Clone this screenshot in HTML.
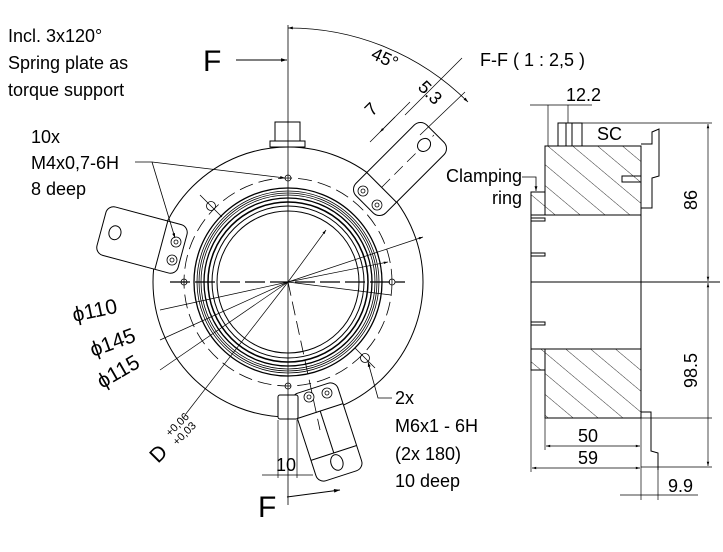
<!DOCTYPE html>
<html><head><style>
html,body{margin:0;padding:0;background:#fff;}
svg{display:block;}
text{font-family:"Liberation Sans",sans-serif;fill:#000;}
</style></head><body>
<svg width="723" height="552" viewBox="0 0 723 552" xmlns="http://www.w3.org/2000/svg">
<defs>
<marker id="a" viewBox="0 0 10 10" refX="10" refY="5" markerWidth="8" markerHeight="6" orient="auto-start-reverse"><path d="M0,2 L10,5 L0,8 z" fill="#000"/></marker>
<pattern id="h" width="16" height="16" patternUnits="userSpaceOnUse" patternTransform="rotate(-50)"><line x1="0" y1="0" x2="0" y2="16" stroke="#000" stroke-width="0.8"/></pattern>
</defs>
<g fill="none" stroke="#000" stroke-width="1">
<!-- body -->
<circle cx="288" cy="282" r="135" fill="#fff"/>
<rect x="275" y="122" width="25" height="20" fill="#fff"/>
<rect x="270" y="141" width="35" height="6" fill="#fff"/>
<circle cx="288" cy="282" r="104" stroke-dasharray="14,6" stroke-width="0.8"/>
<circle cx="288" cy="282" r="94" stroke-width="1.3"/>
<circle cx="288" cy="282" r="91" stroke-width="0.8"/>
<circle cx="288" cy="282" r="89" stroke-width="0.8"/>
<circle cx="288" cy="282" r="87" stroke-width="0.8"/>
<circle cx="288" cy="282" r="84" stroke-width="1.3"/>
<circle cx="288" cy="282" r="80" stroke-width="1.5"/>
<circle cx="288" cy="282" r="76"/>
<circle cx="288" cy="282" r="71"/>
<!-- tabs on top -->
<g transform="translate(400,169) rotate(-45)" fill="#fff">
<rect x="-50" y="-21" width="100" height="42" rx="9"/>
<line x1="-26" y1="-21" x2="-26" y2="21"/>
<line x1="-26" y1="0" x2="48" y2="0" stroke-dasharray="12,6" stroke-width="0.7"/>
<ellipse cx="34" cy="0" rx="7" ry="6"/>
</g>
<g transform="translate(142,240) rotate(15)" fill="#fff">
<rect x="-42" y="-25" width="84" height="50" rx="8"/>
<line x1="20" y1="-25" x2="20" y2="25"/>
<ellipse cx="-28" cy="0" rx="6" ry="7"/>
</g>
<g transform="translate(327,432) rotate(-18)" fill="#fff">
<rect x="-24" y="-46" width="48" height="92" rx="8"/>
<line x1="-24" y1="-22" x2="24" y2="-22"/>
<line x1="-24" y1="22" x2="24" y2="22"/>
<line x1="0" y1="-22" x2="0" y2="22"/>
<ellipse cx="0" cy="32" rx="6" ry="8"/>
</g>
<rect x="278" y="395" width="20" height="24" rx="2" fill="#fff"/>
<!-- holes -->
<g stroke-width="0.8">
<circle cx="184" cy="282" r="3"/><circle cx="392" cy="282" r="3"/>
<circle cx="288" cy="178" r="3"/><circle cx="288" cy="386" r="3"/>
<circle cx="211" cy="206" r="4.5"/><circle cx="365" cy="358" r="4.5"/>
<line x1="200" y1="195" x2="222" y2="217"/><line x1="355" y1="348" x2="375" y2="368"/>
<circle cx="363" cy="191" r="5"/><circle cx="363" cy="191" r="2"/>
<circle cx="377" cy="205" r="5"/><circle cx="377" cy="205" r="2"/>
<circle cx="176" cy="242" r="5"/><circle cx="176" cy="242" r="2"/>
<circle cx="172" cy="260" r="5"/><circle cx="172" cy="260" r="2"/>
<circle cx="309" cy="397" r="5"/><circle cx="309" cy="397" r="2"/>
<circle cx="327" cy="393" r="5"/><circle cx="327" cy="393" r="2"/>
</g>
<!-- center lines -->
<line x1="288" y1="25" x2="288" y2="505" stroke-width="0.8"/>
<line x1="170" y1="282" x2="405" y2="282" stroke-dasharray="20,5" stroke-width="1.2"/>
<line x1="288" y1="282" x2="320" y2="430" stroke-dasharray="14,6" stroke-width="0.8"/>
<!-- dim lines from center -->
<line x1="288" y1="282" x2="326" y2="230" marker-end="url(#a)" stroke-width="0.7"/>
<line x1="288" y1="282" x2="423" y2="237" marker-end="url(#a)" stroke-width="0.7"/>
<line x1="288" y1="282" x2="388" y2="262" marker-end="url(#a)" stroke-width="0.7"/>
<line x1="288" y1="282" x2="391" y2="295" stroke-width="0.7"/>
<line x1="160" y1="310" x2="288" y2="282" stroke-width="0.7"/>
<line x1="160" y1="340" x2="288" y2="282" stroke-width="0.7"/>
<line x1="160" y1="370" x2="288" y2="282" stroke-width="0.7"/>
<line x1="185" y1="415" x2="288" y2="282" stroke-width="0.7"/>
<!-- leaders -->
<polyline points="135,162 152,162 285,178" marker-end="url(#a)" stroke-width="0.8"/>
<line x1="152" y1="162" x2="175" y2="238" marker-end="url(#a)" stroke-width="0.8"/>
<polyline points="392,398 378,398 368,362" marker-end="url(#a)" stroke-width="0.8"/>
<polyline points="522,177 536,177 536,191" marker-end="url(#a)" stroke-width="0.8"/>
<!-- F arrows -->
<line x1="236" y1="60" x2="287" y2="60" marker-end="url(#a)"/>
<line x1="287" y1="497" x2="340" y2="490" marker-end="url(#a)"/>
<!-- 45 arc -->
<path d="M288,28 A254,254 0 0 1 468,102" marker-start="url(#a)" marker-end="url(#a)" stroke-width="0.8"/>
<line x1="370" y1="142" x2="410" y2="102" stroke-width="0.7"/>
<line x1="405" y1="115" x2="462" y2="58" stroke-width="0.7"/>
<line x1="420" y1="135" x2="465" y2="92" stroke-width="0.7"/>
<line x1="380" y1="132" x2="395" y2="117" marker-start="url(#a)" stroke-width="0.7"/>
<!-- 10 dim -->
<line x1="278" y1="420" x2="278" y2="478" stroke-width="0.7"/>
<line x1="297" y1="420" x2="297" y2="478" stroke-width="0.7"/>
<line x1="262" y1="475" x2="313" y2="475" stroke-width="0.7"/>
<!-- side view -->
<rect x="545" y="146" width="96" height="69" fill="url(#h)"/>
<rect x="545" y="349" width="96" height="69" fill="url(#h)"/>
<rect x="531" y="192" width="14" height="23" fill="url(#h)"/>
<rect x="531" y="349" width="14" height="21" fill="url(#h)"/>
<rect x="558" y="123" width="24" height="23" fill="#fff"/>
<line x1="566" y1="123" x2="566" y2="146"/><line x1="572" y1="123" x2="572" y2="146"/>
<rect x="531" y="215" width="110" height="134"/>
<line x1="545" y1="146" x2="545" y2="215"/>
<line x1="531" y1="282" x2="720" y2="282"/>
<rect x="531" y="218" width="14" height="3"/><rect x="531" y="253" width="14" height="3"/>
<rect x="531" y="322" width="14" height="3"/>
<path d="M641,144 L652,144 L652,132 L659,129 L659,176 L652,178 L652,208 L641,208"/>
<rect x="622" y="176" width="19" height="6"/>
<path d="M641,412 L651,412 L651,451 L658,453 L658,470"/>
<!-- side dims -->
<line x1="582" y1="123" x2="712" y2="123" stroke-width="0.7"/>
<line x1="641" y1="418" x2="712" y2="418" stroke-width="0.7"/>
<line x1="641" y1="467" x2="712" y2="467" stroke-width="0.7"/>
<line x1="708" y1="124" x2="708" y2="281" marker-start="url(#a)" marker-end="url(#a)" stroke-width="0.7"/>
<line x1="708" y1="283" x2="708" y2="466" marker-start="url(#a)" marker-end="url(#a)" stroke-width="0.7"/>
<line x1="531" y1="350" x2="531" y2="472" stroke-width="0.7"/>
<line x1="545" y1="418" x2="545" y2="450" stroke-width="0.7"/>
<line x1="641" y1="418" x2="641" y2="500" stroke-width="0.7"/>
<line x1="546" y1="446" x2="640" y2="446" marker-start="url(#a)" marker-end="url(#a)" stroke-width="0.7"/>
<line x1="532" y1="468" x2="640" y2="468" marker-start="url(#a)" marker-end="url(#a)" stroke-width="0.7"/>
<line x1="658" y1="470" x2="658" y2="500" stroke-width="0.7"/>
<line x1="620" y1="495" x2="698" y2="495" stroke-width="0.7"/>
<line x1="530" y1="105" x2="592" y2="105" stroke-width="0.7"/>
<line x1="548" y1="105" x2="548" y2="146" stroke-width="0.7"/>
<line x1="568" y1="105" x2="568" y2="123" stroke-width="0.7"/>
</g>
<!-- text -->
<g font-size="18">
<text x="8" y="42">Incl. 3x120°</text>
<text x="8" y="69">Spring plate as</text>
<text x="8" y="96">torque support</text>
<text x="31" y="143">10x</text>
<text x="31" y="169">M4x0,7-6H</text>
<text x="31" y="195">8 deep</text>
<text x="395" y="404">2x</text>
<text x="395" y="432">M6x1 - 6H</text>
<text x="395" y="460">(2x 180)</text>
<text x="395" y="487">10 deep</text>
<text x="276" y="471">10</text>
<text x="480" y="66">F-F ( 1 : 2,5 )</text>
<text x="566" y="101">12.2</text>
<text x="597" y="140">SC</text>
<text x="522" y="182" text-anchor="end">Clamping</text>
<text x="522" y="204" text-anchor="end">ring</text>
<text x="578" y="442">50</text>
<text x="578" y="464">59</text>
<text x="668" y="492">9.9</text>
<text transform="translate(697,210) rotate(-90)">86</text>
<text transform="translate(697,388) rotate(-90)">98.5</text>
<text transform="translate(370,58) rotate(25)">45°</text>
<text transform="translate(372,117) rotate(-45)">7</text>
<text transform="translate(417,88) rotate(45)">5.3</text>
</g>
<g font-size="21">
<text transform="translate(74,322) rotate(-12)">ϕ110</text>
<text transform="translate(93,357) rotate(-20)">ϕ145</text>
<text transform="translate(102,389) rotate(-30)">ϕ115</text>
<text transform="translate(158,464) rotate(-45)">D</text>
</g>
<text transform="translate(170,437) rotate(-45)" font-size="11">+0,06</text>
<text transform="translate(177,446) rotate(-45)" font-size="11">+0,03</text>
<text x="203" y="71" font-size="30">F</text>
<text x="258" y="517" font-size="30">F</text>
</svg>
</body></html>
